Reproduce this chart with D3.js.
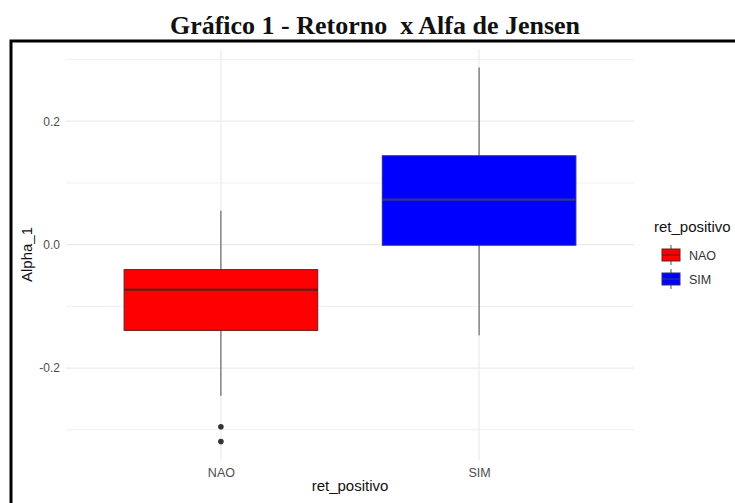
<!DOCTYPE html>
<html><head><meta charset="utf-8">
<script src="https://cdn.jsdelivr.net/npm/d3@7"></script>
<style>html,body{margin:0;padding:0;background:#fff;overflow:hidden}</style>
</head><body>
<svg id="c" width="735" height="503"></svg>
<script>
const categories = ["NAO", "SIM"];
const whiskerLow = [-0.245, -0.147];
const q1 = [-0.139, -0.001];
const median = [-0.073, 0.073];
const q3 = [-0.0405, 0.144];
const whiskerHigh = [0.055, 0.287];
const outlierCategory = ["NAO", "NAO"];
const outlierValue = [-0.295, -0.319];
const fills = ["#ff0000", "#0000ff"];
const boxStroke = ["#6e1c1c", "#2b2b8c"];
const medianStroke = ["#7a1616", "#33338a"];
const majorTicks = [-0.2, 0.0, 0.2];
const minorTicks = [-0.3, -0.1, 0.1, 0.3];
const titleText = "Gráfico 1 - Retorno  x Alfa de Jensen";
const xTitle = "ret_positivo";
const yTitle = "Alpha_1";
const legendTitle = "ret_positivo";

const svg = d3.select("#c");
const L = 66, R = 634, T = 49, B = 460;

// title and border
svg.append("text").attr("x", 375).attr("y", 34).attr("text-anchor", "middle")
  .attr("font-family", "Liberation Serif, Times New Roman, serif").attr("font-weight", "bold")
  .attr("font-size", 26).attr("fill", "#111").style("white-space", "pre").attr("xml:space", "preserve").text(titleText);
svg.append("rect").attr("x", 11).attr("y", 41).attr("width", 800).attr("height", 600)
  .attr("fill", "none").attr("stroke", "#000").attr("stroke-width", 3);

const x = d3.scalePoint().domain(categories).range([L, R]).padding(0.6);
const y = d3.scaleLinear().domain([-0.349, 0.317]).range([B, T]);
const bw = x.step() * 0.75;

const g = svg.append("g");
// grid
g.selectAll(".minor").data(minorTicks).join("line")
  .attr("x1", L).attr("x2", R).attr("y1", d => y(d)).attr("y2", d => y(d))
  .attr("stroke", "#f0f0f0").attr("stroke-width", 1);
g.selectAll(".major").data(majorTicks).join("line")
  .attr("x1", L).attr("x2", R).attr("y1", d => y(d)).attr("y2", d => y(d))
  .attr("stroke", "#ebebeb").attr("stroke-width", 1.2);
g.selectAll(".vmajor").data(categories).join("line")
  .attr("x1", d => x(d)).attr("x2", d => x(d)).attr("y1", T).attr("y2", B)
  .attr("stroke", "#ebebeb").attr("stroke-width", 1.2);

// axes (text only)
const yAxis = d3.axisLeft(y).tickValues(majorTicks).tickFormat(d => d.toFixed(1)).tickSize(0).tickPadding(6);
const ya = svg.append("g").attr("transform", `translate(${L},0)`).call(yAxis);
ya.select(".domain").remove();
ya.selectAll("text").attr("font-family", "Liberation Sans, Arial, sans-serif").attr("font-size", 12).attr("fill", "#4d4d4d");

const xAxis = d3.axisBottom(x).tickSize(0).tickPadding(8);
const xa = svg.append("g").attr("transform", `translate(0,${B})`).call(xAxis);
xa.select(".domain").remove();
xa.selectAll("text").attr("font-family", "Liberation Sans, Arial, sans-serif").attr("font-size", 12.5).attr("fill", "#4d4d4d");

// boxes
const idx = d3.range(categories.length);
g.selectAll(".wh").data(idx).join("line")
  .attr("x1", i => x(categories[i])).attr("x2", i => x(categories[i]))
  .attr("y1", i => y(whiskerHigh[i])).attr("y2", i => y(q3[i]))
  .attr("stroke", "#4d4d4d").attr("stroke-width", 1);
g.selectAll(".wl").data(idx).join("line")
  .attr("x1", i => x(categories[i])).attr("x2", i => x(categories[i]))
  .attr("y1", i => y(q1[i])).attr("y2", i => y(whiskerLow[i]))
  .attr("stroke", "#4d4d4d").attr("stroke-width", 1);
g.selectAll(".box").data(idx).join("rect")
  .attr("x", i => x(categories[i]) - bw / 2).attr("width", bw)
  .attr("y", i => y(q3[i])).attr("height", i => y(q1[i]) - y(q3[i]))
  .attr("fill", i => fills[i]).attr("stroke", i => boxStroke[i]).attr("stroke-width", 1);
g.selectAll(".med").data(idx).join("line")
  .attr("x1", i => x(categories[i]) - bw / 2).attr("x2", i => x(categories[i]) + bw / 2)
  .attr("y1", i => y(median[i])).attr("y2", i => y(median[i]))
  .attr("stroke", i => medianStroke[i]).attr("stroke-width", 2.4);
g.selectAll(".out").data(d3.range(outlierValue.length)).join("circle")
  .attr("cx", i => x(outlierCategory[i])).attr("cy", i => y(outlierValue[i])).attr("r", 2.8)
  .attr("fill", "#333");

// axis titles
svg.append("text").attr("x", (L + R) / 2).attr("y", 491).attr("text-anchor", "middle")
  .attr("font-family", "Liberation Sans, Arial, sans-serif").attr("font-size", 15).attr("fill", "#111").text(xTitle);
svg.append("text").attr("transform", `translate(32,${(T + B) / 2}) rotate(-90)`).attr("text-anchor", "middle")
  .attr("font-family", "Liberation Sans, Arial, sans-serif").attr("font-size", 15).attr("fill", "#111").text(yTitle);

// legend
const lg = svg.append("g");
lg.append("text").attr("x", 654).attr("y", 232).attr("font-family", "Liberation Sans, Arial, sans-serif")
  .attr("font-size", 15).attr("fill", "#111").text(legendTitle);
const ky = [255, 279];
idx.forEach(i => {
  const cy = ky[i];
  lg.append("line").attr("x1", 671).attr("x2", 671).attr("y1", cy - 10).attr("y2", cy + 10)
    .attr("stroke", "#555").attr("stroke-width", 1);
  lg.append("rect").attr("x", 662).attr("y", cy - 6).attr("width", 18).attr("height", 12)
    .attr("fill", fills[i]).attr("stroke", boxStroke[i]).attr("stroke-width", 1);
  lg.append("line").attr("x1", 662).attr("x2", 680).attr("y1", cy).attr("y2", cy)
    .attr("stroke", medianStroke[i]).attr("stroke-width", 1.2);
  lg.append("text").attr("x", 689).attr("y", cy + 4.5).attr("font-family", "Liberation Sans, Arial, sans-serif")
    .attr("font-size", 12.5).attr("fill", "#333").text(categories[i]);
});
</script>
</body></html>
